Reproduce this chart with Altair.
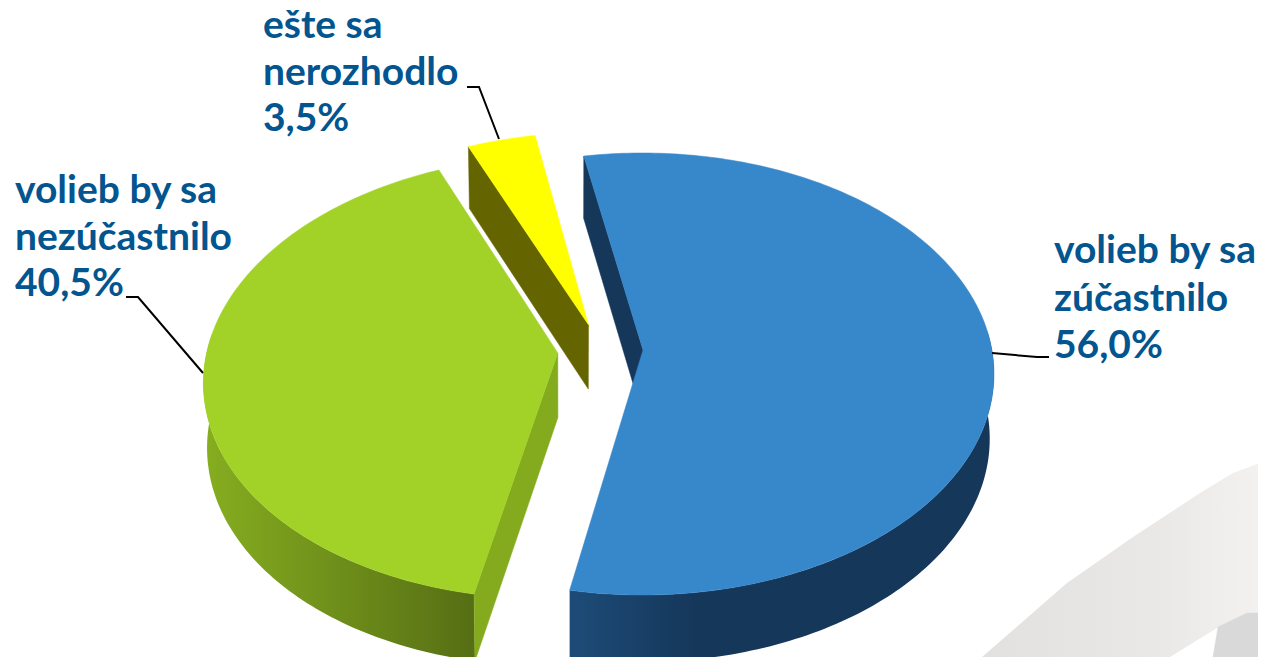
import math
import altair as alt
import pandas as pd

# ---- chart values ----
categories = ["volieb by sa zúčastnilo", "volieb by sa nezúčastnilo", "ešte sa nerozhodlo"]
shares = [56.0, 40.5, 3.5]
start_angle = -10.8
explode = 0.122

label_text = ["volieb by sa", "zúčastnilo", "56,0%",
              "volieb by sa", "nezúčastnilo", "40,5%",
              "ešte sa", "nerozhodlo", "3,5%"]
label_x = [1054, 1054, 1054, 15, 15, 15, 263, 263, 263]
label_y = [263, 311, 358, 203, 250, 296, 38, 85, 131]

leader_id = [0, 0, 0, 1, 1, 1, 2, 2, 2]
leader_x = [992, 1037, 1049, 203, 138, 126, 499, 479, 467]
leader_y = [353, 357, 357, 373, 297, 297, 139, 87, 87]

swoosh_x = [982, 1067, 1133, 1200, 1233, 1257, 1266, 1266, 1247, 1217, 1170]
swoosh_y = [657, 583, 537, 493, 473, 464, 465, 613, 613, 628, 657]
swoosh2_x = [1213, 1218, 1247, 1266, 1266]
swoosh2_y = [657, 627, 613, 613, 657]

# ---- projection of the tilted disc ----
CX, CY, A, B, K, KU = 643.0, 350.0, 349.6, 218.4, 0.1086, 0.002
VX, VS, DEPTH, DEPTH_V = 570.0, 0.99, 64.5, 2.5


def top(u, v):
    d = 1 - K * v + KU * (u - explode)
    return CX + A * (u - explode) / d, CY + B * v / d


def bottom(u, v):
    x, y = top(u, v)
    return VX + VS * (x - VX), y + DEPTH + DEPTH_V * v


def deg_range(a, b, step=1.0):
    n = max(2, int(abs(b - a) / step) + 1)
    return [a + (b - a) * i / (n - 1) for i in range(n)]


slices = []
a0 = start_angle
for s in shares:
    a1 = a0 + s * 3.6
    mid = math.radians((a0 + a1) / 2)
    slices.append((a0, a1, explode * math.sin(mid), -explode * math.cos(mid)))
    a0 = a1


def rim(sl, a, b, fn):
    _, _, ou, ov = sl
    return [fn(ou + math.sin(math.radians(t)), ov - math.cos(math.radians(t))) for t in deg_range(a, b)]


def apex(sl, fn):
    return fn(sl[2], sl[3])


def face(sl):
    return [apex(sl, top)] + rim(sl, sl[0], sl[1], top)


def outer(sl, a, b):
    return rim(sl, a, b, top) + rim(sl, b, a, bottom)


def inner(sl, angle):
    r_top = rim(sl, angle, angle, top)[0]
    r_bot = rim(sl, angle, angle, bottom)[0]
    return [r_top, apex(sl, top), apex(sl, bottom), r_bot]


X_SCALE = alt.Scale(domain=[8, 1258], nice=False, zero=False)
Y_SCALE = alt.Scale(domain=[657, 8], nice=False, zero=False)


def poly(points, fill):
    df = pd.DataFrame({"x": [p[0] for p in points] + [points[0][0]],
                       "y": [p[1] for p in points] + [points[0][1]],
                       "i": list(range(len(points) + 1))})
    return alt.Chart(df).mark_line(fill=fill, stroke=fill if isinstance(fill, str) else "transparent",
                                   strokeWidth=0.5 if isinstance(fill, str) else 0, clip=True).encode(
        x=alt.X("x:Q", scale=X_SCALE, axis=None),
        y=alt.Y("y:Q", scale=Y_SCALE, axis=None),
        order=alt.Order("i:Q"),
    )


def grad(stops):
    return alt.Gradient(gradient="linear", x1=0, x2=1, y1=0, y2=0,
                        stops=[alt.GradientStop(color=c, offset=o) for o, c in stops])


blue, green, yellow = slices
layers = [
    poly(list(zip(swoosh_x, swoosh_y)), grad([(0, "#e2e1e0"), (0.6, "#e9e8e6"), (1, "#f3f2f0")])),
    poly(list(zip(swoosh2_x, swoosh2_y)), "#d9d9d9"),
    # yellow slice
    poly(inner(yellow, yellow[0]), "#646400"),
    poly(face(yellow), "#ffff00"),
    # green slice
    poly(outer(green, green[0], 275), grad([(0, "#86ae20"), (1, "#566e14")])),
    poly(inner(green, green[0]), "#84aa1e"),
    poly(face(green), "#a2d228"),
    # blue slice
    poly(inner(blue, blue[0]), "#15375a"),
    poly(outer(blue, 85, blue[1]), grad([(0, "#1d4b78"), (0.3, "#15375a"), (1, "#15375a")])),
    poly(face(blue), "#3787cb"),
]

leaders = alt.Chart(pd.DataFrame({"id": leader_id, "x": leader_x, "y": leader_y,
                                  "i": list(range(len(leader_x)))})).mark_line(
    color="black", strokeWidth=2).encode(
    x=alt.X("x:Q", scale=X_SCALE, axis=None),
    y=alt.Y("y:Q", scale=Y_SCALE, axis=None),
    detail="id:N",
    order=alt.Order("i:Q"),
)

labels = alt.Chart(pd.DataFrame({"t": label_text, "x": label_x, "y": label_y})).mark_text(
    font="Lato", fontWeight="bold", fontSize=39, color="#02558f", align="left", baseline="alphabetic",
    clip=False).encode(
    x=alt.X("x:Q", scale=X_SCALE, axis=None),
    y=alt.Y("y:Q", scale=Y_SCALE, axis=None),
    text="t:N",
)

chart = alt.layer(*layers, leaders, labels).properties(
    width=1250, height=649, padding=0, background="white",
    autosize=alt.AutoSizeParams(type="none"),
).configure_view(stroke=None)

chart.save("out.html", embed_options={"renderer": "svg", "actions": False})
